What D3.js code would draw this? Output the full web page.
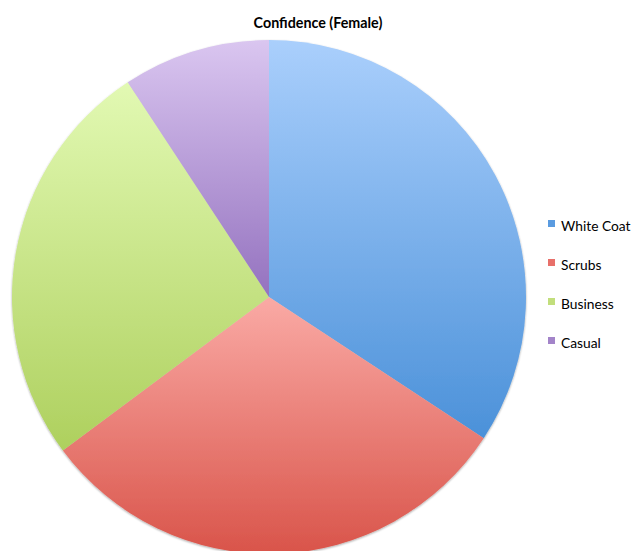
<!DOCTYPE html>
<html><head><meta charset="utf-8">
<script src="https://cdn.jsdelivr.net/npm/d3@7"></script>
<style>body{margin:0;background:#fff}svg{display:block}</style>
</head><body>
<script>
const categories = ["White Coat", "Scrubs", "Business", "Casual"];
const values = [37, 33, 28, 10];
const colorTop = ["#aacffc", "#faaaa5", "#e2f9b3", "#dac6f0"];
const colorBottom = ["#4b91d9", "#d9544a", "#aed05e", "#9472bf"];
const legendColors = ["#5a9be0", "#e8706a", "#c2de7c", "#a384c9"];
const title = "Confidence (Female)";

const W = 633, H = 551;
const cx = 269, cy = 297, R = 257;
const svg = d3.select("body").append("svg").attr("width", W).attr("height", H);
const defs = svg.append("defs");
const f = defs.append("filter").attr("id","sh").attr("x","-10%").attr("y","-10%").attr("width","120%").attr("height","120%");
f.append("feGaussianBlur").attr("in","SourceAlpha").attr("stdDeviation",1.2).attr("result","b");
f.append("feOffset").attr("in","b").attr("dx",0).attr("dy",1).attr("result","o");
f.append("feComponentTransfer").attr("in","o").attr("result","o2").append("feFuncA").attr("type","linear").attr("slope",0.35);
const fm = f.append("feMerge"); fm.append("feMergeNode").attr("in","o2"); fm.append("feMergeNode").attr("in","SourceGraphic");

categories.forEach((c,i)=>{
  const g = defs.append("linearGradient").attr("id","g"+i).attr("x1",0).attr("y1",0).attr("x2",0).attr("y2",1);
  g.append("stop").attr("offset","0%").attr("stop-color",colorTop[i]);
  g.append("stop").attr("offset","100%").attr("stop-color",colorBottom[i]);
});

const pie = d3.pie().sort(null).value(d=>d)(values);
const arc = d3.arc().innerRadius(0).outerRadius(R);
const gp = svg.append("g").attr("transform",`translate(${cx},${cy})`).attr("filter","url(#sh)");
gp.selectAll("path").data(pie).join("path")
  .attr("d",arc).attr("fill",(d,i)=>`url(#g${i})`);

svg.append("text").attr("x",318).attr("y",28).attr("text-anchor","middle")
  .attr("font-family","Lato, 'Open Sans', sans-serif").attr("font-weight","bold")
  .attr("font-size",14.3).attr("fill","#000").text(title);

const lg = svg.append("g");
categories.forEach((c,i)=>{
  const y = 226 + i*39;
  lg.append("rect").attr("x",548).attr("y",y-6).attr("width",7).attr("height",7).attr("fill",legendColors[i]);
  lg.append("text").attr("x",561).attr("y",y+1).attr("dominant-baseline","middle")
    .attr("font-family","Lato, 'Open Sans', sans-serif").attr("font-size",13.8).attr("fill","#000").text(c);
});
</script>
</body></html>
